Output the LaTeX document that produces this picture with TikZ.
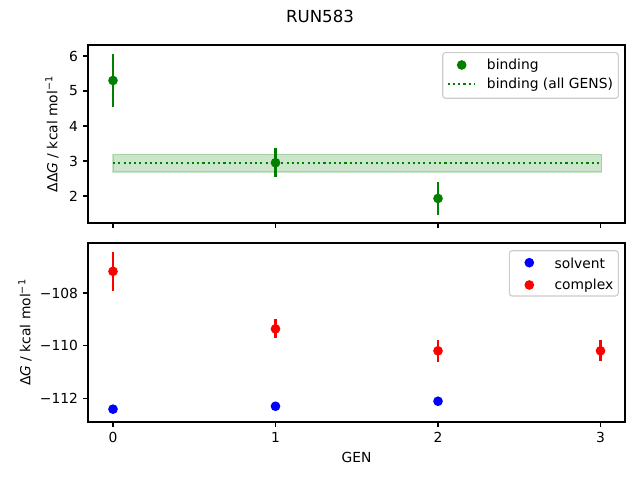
\documentclass[tikz,border=0pt]{standalone}
\usepackage{fontspec}
\setmainfont{DejaVu Sans}

\definecolor{plotgreen}{RGB}{0,128,0}
\definecolor{plotred}{RGB}{255,0,0}
\definecolor{plotblue}{RGB}{0,0,255}
\definecolor{legendedge}{gray}{0.8}

\tikzset{
  axisline/.style={line width=0.8pt, black},
  errbar/.style={line width=1.5pt},
  ticklabel/.style={inner sep=0pt},
  legendbox/.style={draw=legendedge, line width=0.8pt, fill=white, fill opacity=0.8, rounded corners=2pt}
}

\begin{document}
\begin{tikzpicture}[x=0.01in, y=-0.01in, font=\fontsize{10}{12}\selectfont]
\useasboundingbox (0,0) rectangle (640,480);

\node (title) at (320,16) {\fontsize{12}{14}\selectfont RUN583};

% upper panel
\filldraw [plotgreen, fill opacity=0.2, draw opacity=0.2, line width=1pt] (113,{266-35*3.19}) rectangle (601.5,{266-35*2.69}) ;
\draw [plotgreen, line width=1.5pt, dash pattern=on 1.5pt off 2.3pt] (113,{266-35*2.94}) to (601.5,{266-35*2.94}) ;

\foreach \g/\v/\e in {0/5.30/0.77, 1/2.95/0.41, 2/1.93/0.47} {
  \draw [errbar, plotgreen] (113+162.5*\g,{266-35*(\v+\e)}) to (113+162.5*\g,{266-35*(\v-\e)}) ;
  \fill [plotgreen] (113+162.5*\g,{266-35*\v}) circle [radius=3.5pt] ;
}

\draw [axisline] (88,45) rectangle (625,223) ;
\foreach \g in {0,...,3}
  \draw [axisline] (113+162.5*\g,223) to ++(0,4.86) ;
\foreach \v in {2,...,6} {
  \draw [axisline] (88,{266-35*\v}) to ++(-4.86,0) ;
  \node [ticklabel, anchor=east] (ty\v) at (78.3,{266-35*\v}) {\v} ;
}
\node [rotate=90] (ylabeltop) at (52,134) {ΔΔ\textit{G} / kcal mol\textsuperscript{−1}} ;

% legend of the upper panel
\draw [legendbox] (442.7,52.7) rectangle (618.3,98.3) ;
\fill [plotgreen] (461.7,65) circle [radius=3.5pt] ;
\node [ticklabel, anchor=west] (legbinding) at (486.7,65.5) {binding} ;
\draw [plotgreen, line width=1.5pt, dash pattern=on 1.5pt off 2.3pt] (447.7,84) to (475,84) ;
\node [ticklabel, anchor=west] (legall) at (486.7,84.5) {binding (all GENS)} ;

% lower panel
\foreach \g/\v/\e in {0/-112.40/0.05, 1/-112.29/0.04, 2/-112.10/0.05} {
  \draw [errbar, plotblue] (113+162.5*\g,{293-26.4*(\v+\e+108)}) to (113+162.5*\g,{293-26.4*(\v-\e+108)}) ;
  \fill [plotblue] (113+162.5*\g,{293-26.4*(\v+108)}) circle [radius=3.5pt] ;
}
\foreach \g/\v/\e in {0/-107.18/0.73, 1/-109.36/0.36, 2/-110.19/0.42, 3/-110.19/0.40} {
  \draw [errbar, plotred] (113+162.5*\g,{293-26.4*(\v+\e+108)}) to (113+162.5*\g,{293-26.4*(\v-\e+108)}) ;
  \fill [plotred] (113+162.5*\g,{293-26.4*(\v+108)}) circle [radius=3.5pt] ;
}

\draw [axisline] (88,243) rectangle (625,422) ;
\foreach \g in {0,...,3} {
  \draw [axisline] (113+162.5*\g,422) to ++(0,4.86) ;
  \node [ticklabel, anchor=north] (tx\g) at (113+162.5*\g,431.7) {\g} ;
}
\foreach \v in {108,110,112} {
  \draw [axisline] (88,{293+26.4*(\v-108)}) to ++(-4.86,0) ;
  \node [ticklabel, anchor=east] (tb\v) at (78.3,{293+26.4*(\v-108)}) {−\v} ;
}
\node [rotate=90] (ylabelbottom) at (25,332.5) {Δ\textit{G} / kcal mol\textsuperscript{−1}} ;
\node (xlabel) at (356.5,457.7) {GEN} ;

% legend of the lower panel
\draw [legendbox] (509.3,250.7) rectangle (618.3,296) ;
\fill [plotblue] (529.3,262.7) circle [radius=3.5pt] ;
\node [ticklabel, anchor=west] (legsolvent) at (554.3,263.2) {solvent} ;
\fill [plotred] (529.3,285) circle [radius=3.5pt] ;
\node [ticklabel, anchor=west] (legcomplex) at (554.3,285.5) {complex} ;

\end{tikzpicture}
\end{document}
